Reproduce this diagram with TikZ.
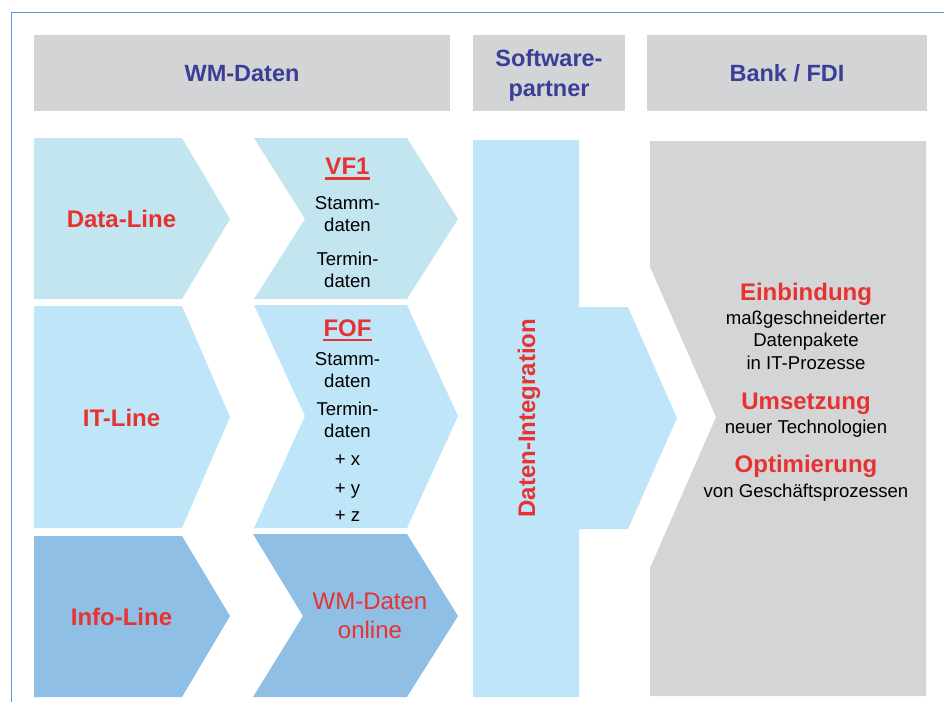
\documentclass[tikz,border=0pt]{standalone}
\usepackage{fontspec}
\setmainfont{Liberation Sans}
\definecolor{framec}{RGB}{91,155,213}
\definecolor{hdrgrey}{RGB}{211,212,214}
\definecolor{bankgrey}{RGB}{212,213,215}
\definecolor{hdrblue}{RGB}{58,62,150}
\definecolor{myred}{RGB}{230,50,48}
\definecolor{blueA}{RGB}{194,229,239}
\definecolor{blueB}{RGB}{191,230,248}
\definecolor{blueC}{RGB}{143,191,229}
\tikzset{
  hdr/.style={font=\fontsize{23.5}{28}\selectfont\bfseries, text=hdrblue, inner sep=0, anchor=base},
  lbl/.style={font=\fontsize{24}{28}\selectfont\bfseries, text=myred, inner sep=0, anchor=base},
  lblreg/.style={font=\fontsize{24}{28}\selectfont, text=myred, inner sep=0, anchor=base},
  body/.style={font=\fontsize{18.6}{22}\selectfont, text=black, inner sep=0, anchor=base},
  uline/.style={myred, line width=2.4pt},
}
\begin{document}
\begin{tikzpicture}[x=1pt,y=-1pt]
\useasboundingbox (0,0) rectangle (944,702);
% frame
\draw[framec, line width=1.3pt] (11.5,702) -- (11.5,12.5) -- (944,12.5);
% headers
\fill[hdrgrey] (34,35) rectangle (450,111);
\fill[hdrgrey] (473,35) rectangle (625,111);
\fill[hdrgrey] (647,35) rectangle (927,111);
\node[hdr] (hwm) at (242,81.7) {WM-Daten};
\node[hdr] (hsw1) at (549,66.7) {Software-};
\node[hdr] (hsw2) at (549,96) {partner};
\node[hdr] (hbank) at (787,81.7) {Bank / FDI};
% row 1
\fill[blueA] (34,138) -- (182,138) -- (230,219) -- (182,299) -- (34,299) -- cycle;
\fill[blueA] (254,138) -- (407,138) -- (458,219) -- (407,299) -- (254,299) -- (305,219) -- cycle;
% row 2
\fill[blueB] (34,306) -- (182,306) -- (230,417) -- (182,528) -- (34,528) -- cycle;
\fill[blueB] (254,305) -- (407,305) -- (458,416) -- (407,528) -- (254,528) -- (305,416) -- cycle;
% row 3
\fill[blueC] (34,536) -- (182,536) -- (230,616) -- (182,697) -- (34,697) -- cycle;
\fill[blueC] (253,534) -- (407,534) -- (458,616) -- (407,697) -- (253,697) -- (303,616) -- cycle;
% Daten-Integration
\fill[blueB] (473,140) -- (579,140) -- (579,307) -- (628,307) -- (677,418) -- (628,529) -- (579,529) -- (579,697) -- (473,697) -- cycle;
% Bank
\fill[bankgrey] (650,141) -- (926,141) -- (926,696) -- (650,696) -- (650,568) -- (716,417) -- (650,267) -- cycle;
% row labels
\node[lbl] (dl) at (121.5,227.7) {Data-Line};
\node[lbl] (itl) at (121.5,426) {IT-Line};
\node[lbl] (il) at (121.5,625.7) {Info-Line};
% VF1
\node[lbl] (vf1) at (347.5,174.4) {VF1};
\draw[uline] ([yshift=-4pt]vf1.base west) -- ([yshift=-4pt]vf1.base east);
\node[body] (v1) at (347.5,209.3) {Stamm-};
\node[body] (v2) at (347.5,231.7) {daten};
\node[body] (v3) at (347.5,265.7) {Termin-};
\node[body] (v4) at (347.5,287.3) {daten};
% FOF
\node[lbl] (fof) at (347.5,336.7) {FOF};
\draw[uline] ([yshift=-3.3pt]fof.base west) -- ([yshift=-3.3pt]fof.base east);
\node[body] (f1) at (347.5,365.7) {Stamm-};
\node[body] (f2) at (347.5,387.3) {daten};
\node[body] (f3) at (347.5,415.7) {Termin-};
\node[body] (f4) at (347.5,437.7) {daten};
\node[body] (f5) at (347.5,465.7) {+ x};
\node[body] (f6) at (347.5,494) {+ y};
\node[body] (f7) at (347.5,521.7) {+ z};
% WM-Daten online
\node[lblreg] (wo1) at (370,609.3) {WM-Daten};
\node[lblreg] (wo2) at (370,638.3) {online};
% Daten-Integration label
\node[lbl, rotate=90] (di) at (535,418.3) {Daten-Integration};
% right text
\node[lbl] (r1) at (806,300.5) {Einbindung};
\node[body] (r2) at (806,324) {maßgeschneiderter};
\node[body] (r3) at (806,346) {Datenpakete};
\node[body] (r4) at (806,369) {in IT-Prozesse};
\node[lbl] (r5) at (806,409) {Umsetzung};
\node[body] (r6) at (806,433.3) {neuer Technologien};
\node[lbl] (r7) at (806,472.7) {Optimierung};
\node[body] (r8) at (806,497.3) {von Geschäftsprozessen};
\end{tikzpicture}
\end{document}
